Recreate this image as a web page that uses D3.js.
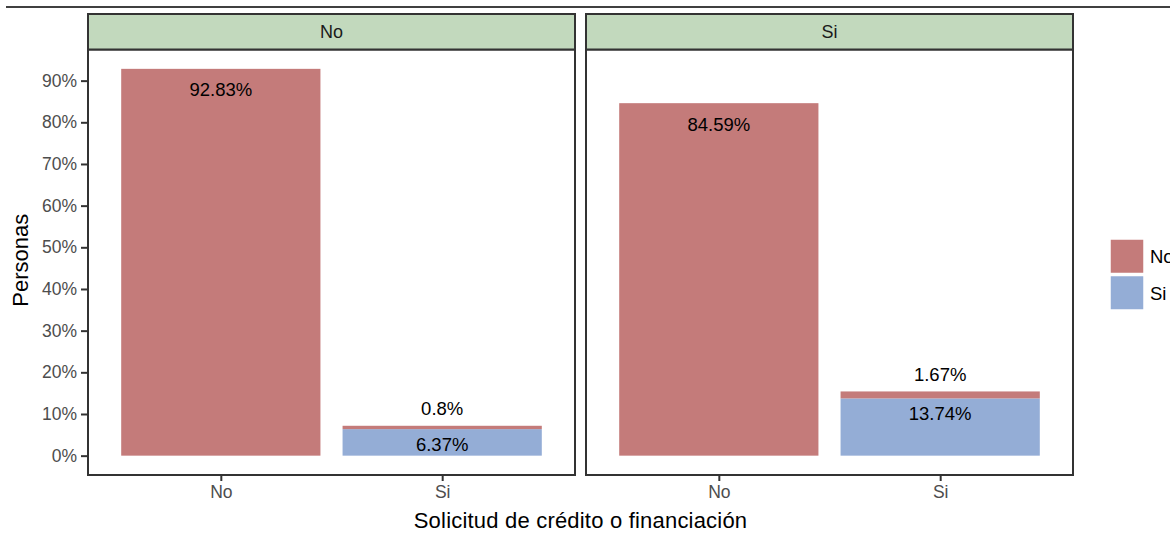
<!DOCTYPE html>
<html>
<head>
<meta charset="utf-8">
<script src="https://cdn.jsdelivr.net/npm/d3@7"></script>
<style>
  body { margin: 0; background: #fff; }
  svg { display: block; font-family: "Liberation Sans", Arial, sans-serif; }
</style>
</head>
<body>
<svg id="chart" width="1170" height="533"></svg>
<script>
// Facets: did the person request credit or financing earlier ("No"/"Si")
const facets = ["No", "Si"];
// x categories inside each facet
const categories = ["No", "Si"];
// fill groups (stack order bottom -> top is "Si" then "No")
const groups = ["No", "Si"];
// percentages of people, per facet, category and fill group
const valuesNo = [ // facet "No"
  { category: "No", group: "No", value: 92.83 },
  { category: "Si", group: "Si", value: 6.37 },
  { category: "Si", group: "No", value: 0.8 }
];
const valuesSi = [ // facet "Si"
  { category: "No", group: "No", value: 84.59 },
  { category: "Si", group: "Si", value: 13.74 },
  { category: "Si", group: "No", value: 1.67 }
];
const yTicks = [0, 10, 20, 30, 40, 50, 60, 70, 80, 90];
const colors = { No: "#c47b7a", Si: "#94add6" };

const FONT = "Liberation Sans, Arial, sans-serif";
const svg = d3.select("#chart");

// header rule
svg.append("line").attr("x1", 6).attr("x2", 1170).attr("y1", 7).attr("y2", 7)
  .attr("stroke", "#000").attr("stroke-width", 1.3);

const panelTop = 49.5, panelBottom = 475;
const stripTop = 14;
const panels = [{ x0: 88, x1: 575, data: valuesNo }, { x0: 586, x1: 1073, data: valuesSi }];

const maxTotal = 92.83;
const pad = maxTotal * 0.05;
const y = d3.scaleLinear().domain([-pad, maxTotal + pad]).range([panelBottom, panelTop]);

panels.forEach((p, i) => {
  const g = svg.append("g");
  // discrete x: 0.6 units of expansion on each side, bars 0.9 units wide
  const x = d3.scalePoint().domain(categories)
    .range([p.x0 + (p.x1 - p.x0) * 0.6 / 2.2, p.x1 - (p.x1 - p.x0) * 0.6 / 2.2]);
  const bw = (x("Si") - x("No")) * 0.9;

  // stack values per category: "Si" at the bottom, "No" above it
  const stacked = [];
  categories.forEach(c => {
    let base = 0;
    ["Si", "No"].forEach(gr => {
      const d = p.data.find(v => v.category === c && v.group === gr);
      if (d) { stacked.push({ ...d, y0: base, y1: base + d.value }); base += d.value; }
    });
  });

  g.selectAll("rect.bar").data(stacked).enter().append("rect")
    .attr("class", "bar")
    .attr("x", d => x(d.category) - bw / 2)
    .attr("width", bw)
    .attr("y", d => y(d.y1))
    .attr("height", d => y(d.y0) - y(d.y1))
    .attr("fill", d => colors[d.group]);

  // value labels
  g.selectAll("text.lab").data(stacked).enter().append("text")
    .attr("class", "lab")
    .attr("x", d => x(d.category))
    .attr("y", d => {
      if (d.category === "No") return y(d.y1) + 21;
      if (d.group === "Si") return y(d.y1) + 15;
      return y(d.y1) - 17;
    })
    .attr("dy", "0.35em")
    .attr("text-anchor", "middle")
    .attr("font-size", 18.5)
    .attr("fill", "#000")
    .text(d => d.value + "%");

  // panel border
  g.append("rect").attr("x", p.x0).attr("y", panelTop).attr("width", p.x1 - p.x0)
    .attr("height", panelBottom - panelTop).attr("fill", "none")
    .attr("stroke", "#333").attr("stroke-width", 2);

  // strip
  g.append("rect").attr("x", p.x0).attr("y", stripTop).attr("width", p.x1 - p.x0)
    .attr("height", panelTop - stripTop).attr("fill", "#c2d9bd")
    .attr("stroke", "#333").attr("stroke-width", 2);
  g.append("text").attr("x", (p.x0 + p.x1) / 2).attr("y", (stripTop + panelTop) / 2)
    .attr("dy", "0.35em").attr("text-anchor", "middle").attr("font-size", 18)
    .attr("fill", "#1a1a1a").text(facets[i]);

  // x axis
  const ax = g.append("g").attr("transform", `translate(0,${panelBottom + 1})`)
    .call(d3.axisBottom(x).tickSize(5).tickPadding(5));
  ax.select(".domain").remove();
  ax.selectAll(".tick line").attr("stroke", "#333").attr("stroke-width", 2);
  ax.selectAll(".tick text").attr("font-size", 17.5).attr("fill", "#4d4d4d")
    .attr("font-family", FONT);
});

// y axis on the left panel
const yAxis = d3.axisLeft(y).tickValues(yTicks).tickFormat(d => d + "%").tickSize(6).tickPadding(4);
const ay = svg.append("g").attr("transform", `translate(${panels[0].x0 - 1},0)`).call(yAxis);
ay.select(".domain").remove();
ay.selectAll(".tick line").attr("stroke", "#333").attr("stroke-width", 2);
ay.selectAll(".tick text").attr("font-size", 17.5).attr("fill", "#4d4d4d")
  .attr("font-family", FONT);

// axis titles
svg.append("text").attr("x", (panels[0].x0 + panels[1].x1) / 2).attr("y", 520)
  .attr("dy", "0.35em").attr("text-anchor", "middle").attr("font-size", 22)
  .attr("letter-spacing", 0.2)
  .text("Solicitud de crédito o financiación");
svg.append("text").attr("transform", `translate(20,${(panelTop + panelBottom) / 2 - 2}) rotate(-90)`)
  .attr("dy", "0.35em").attr("text-anchor", "middle").attr("font-size", 22)
  .text("Personas");

// legend
const leg = svg.append("g").attr("transform", "translate(1110,239)");
groups.forEach((gr, i) => {
  leg.append("rect").attr("x", 0).attr("y", i * 36.5).attr("width", 34).attr("height", 34.5)
    .attr("fill", colors[gr]).attr("stroke", "#fff").attr("stroke-width", 1.5);
  leg.append("text").attr("x", 40).attr("y", i * 36.5 + 18).attr("dy", "0.35em")
    .attr("font-size", 18.5).text(gr);
});
</script>
</body>
</html>
